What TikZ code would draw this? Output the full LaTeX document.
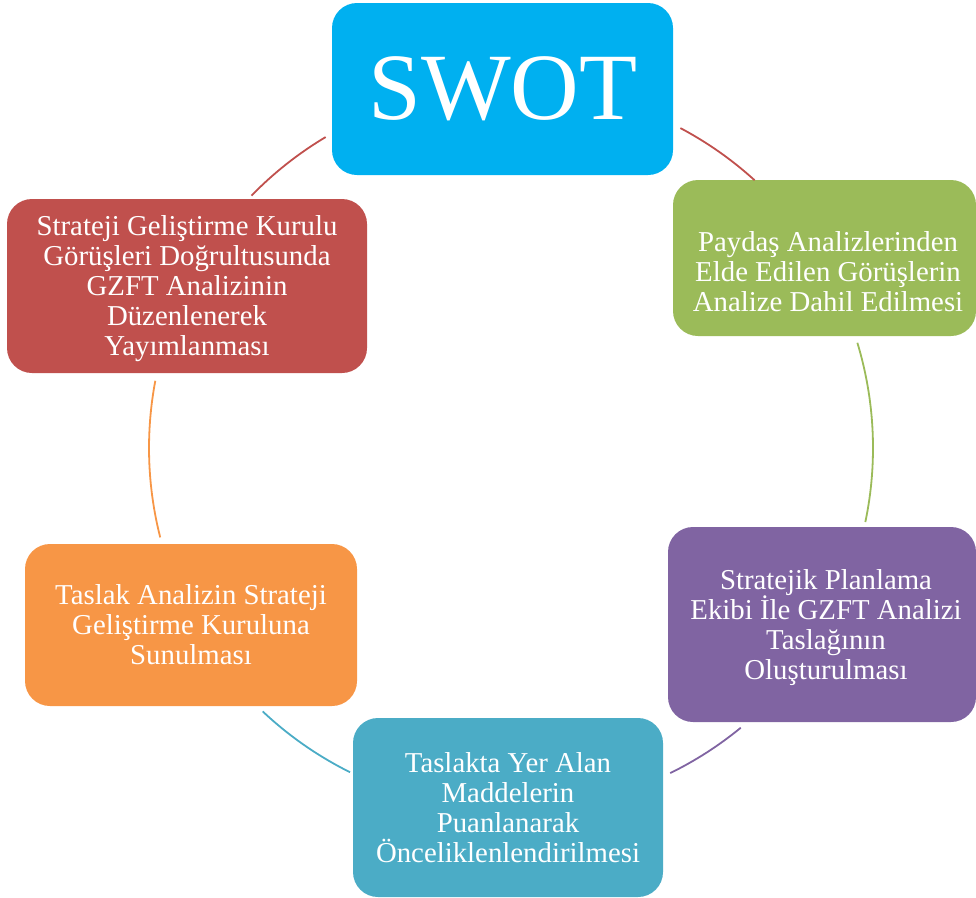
\documentclass[tikz,border=0pt]{standalone}
\usepackage{fontspec}
\setmainfont{Liberation Serif}
\definecolor{swotblue}{HTML}{00B0F0}
\definecolor{sgreen}{HTML}{9BBB59}
\definecolor{spurple}{HTML}{8064A2}
\definecolor{steal}{HTML}{4BACC6}
\definecolor{sorange}{HTML}{F79646}
\definecolor{sred}{HTML}{C0504D}
\begin{document}
\begin{tikzpicture}[x=1pt,y=1pt,
  box/.style={rectangle, draw=none, rounded corners=25pt, inner sep=0pt},
  txt/.style={text=white, align=center, inner sep=0pt, font=\fontsize{28.8}{30}\selectfont},
  cyc/.style={line width=1.8pt}]
\useasboundingbox (0,0) rectangle (976,-897);
% boxes
\node[box, fill=swotblue, minimum width=341pt, minimum height=172pt] (swot) at (502.5,-89) {};
\node[box, fill=sgreen, minimum width=303pt, minimum height=156pt] (green) at (824.5,-258) {};
\node[box, fill=spurple, minimum width=308pt, minimum height=195pt] (purple) at (822,-624.5) {};
\node[box, fill=steal, minimum width=310pt, minimum height=179pt] (teal) at (508,-807.5) {};
\node[box, fill=sorange, minimum width=332pt, minimum height=162pt] (orange) at (191,-625) {};
\node[box, fill=sred, minimum width=360pt, minimum height=174pt] (red) at (187,-286) {};
% texts
\node[text=white, inner sep=0pt, anchor=base, font=\fontsize{95}{100}\selectfont] (swott) at (503,-119) {SWOT};
\node[txt] (greent) at (828,-272) {Paydaş Analizlerinden\\Elde Edilen Görüşlerin\\Analize Dahil Edilmesi};
\node[txt] (purplet) at (826,-628) {Stratejik Planlama\\Ekibi İle GZFT Analizi\\Taslağının\\Oluşturulması};
\node[txt] (tealt) at (508,-808) {Taslakta Yer Alan\\Maddelerin\\Puanlanarak\\Önceliklenlendirilmesi};
\node[txt] (oranget) at (191,-625) {Taslak Analizin Strateji\\Geliştirme Kuruluna\\Sunulması};
\node[txt] (redt) at (187,-289) {Strateji Geliştirme Kurulu\\Görüşleri Doğrultusunda\\GZFT Analizinin\\Düzenlenerek\\Yayımlanması};
% cycle arcs
\coordinate (c) at (511,-448);
\draw[cyc, sred] (c) ++(62.1:362pt) arc[start angle=62.1, end angle=47.7, radius=362pt];
\draw[cyc, sgreen] (c) ++(16.9:362pt) arc[start angle=16.9, end angle=-11.8, radius=362pt];
\draw[cyc, spurple] (c) ++(-50.6:362pt) arc[start angle=-50.6, end angle=-63.9, radius=362pt];
\draw[cyc, steal] (c) ++(243.6:362pt) arc[start angle=243.6, end angle=226.7, radius=362pt];
\draw[cyc, sorange] (c) ++(194.3:362pt) arc[start angle=194.3, end angle=169.3, radius=362pt];
\draw[cyc, sred] (c) ++(135.8:362pt) arc[start angle=135.8, end angle=120.8, radius=362pt];
\end{tikzpicture}
\end{document}
